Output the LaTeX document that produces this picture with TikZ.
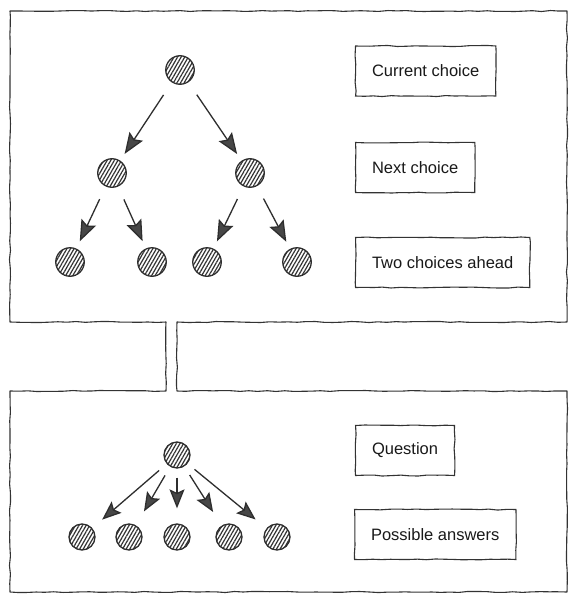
\documentclass[tikz,border=0pt]{standalone}
\usepackage{fontspec}
\setmainfont{Liberation Sans}
\usetikzlibrary{arrows.meta,patterns.meta,decorations.pathmorphing}
\begin{document}
\pgfmathsetseed{11}
\begin{tikzpicture}[x=1pt,y=-1pt,
  ink/.style={draw=black!80,line width=1.1pt},
  wobble/.style={decorate,decoration={random steps,segment length=9pt,amplitude=0.55pt}},
  ball/.style={circle,draw=black!82,line width=1.3pt,minimum size=28.5pt,inner sep=0pt,
    pattern={Lines[angle=60,distance=3.1pt,line width=1.2pt]},pattern color=black!80},
  sball/.style={ball,minimum size=26pt},
  arr/.style={draw=black!82,line width=1.3pt,
    -{Stealth[length=21pt,width=16pt,inset=3.5pt,fill=black!72]}},
  sarr/.style={arr,-{Stealth[length=19pt,width=15pt,inset=3.5pt,fill=black!72]}},
  label/.style={ink,wobble,anchor=west,minimum height=50pt,inner xsep=16.5pt,
    font=\fontsize{16.5}{19}\selectfont,text=black!90}]
\useasboundingbox (0,0) rectangle (569,594);
\fill[white] (0,0) rectangle (569,594);

% panels with connector
\draw[ink,wobble,line join=round] (10,11) -- (567,11) -- (567,322) -- (177,322) -- (177,391)
  -- (567,391) -- (567,592) -- (10,592) -- (10,391) -- (166,391) -- (166,322)
  -- (10,322) -- cycle;

% top tree
\node[ball] (r)   at (180,70) {};
\node[ball] (a)   at (112,173) {};
\node[ball] (b)   at (250,173) {};
\node[ball] (aa)  at (70,262) {};
\node[ball] (ab)  at (152,262) {};
\node[ball] (ba)  at (207,262) {};
\node[ball] (bb)  at (297,262) {};
\draw[arr,shorten <=15pt,shorten >=8pt] (r) -- (a);
\draw[arr,shorten <=15pt,shorten >=8pt] (r) -- (b);
\draw[arr,shorten <=14pt,shorten >=8pt] (a) -- (aa);
\draw[arr,shorten <=14pt,shorten >=8pt] (a) -- (ab);
\draw[arr,shorten <=14pt,shorten >=8pt] (b) -- (ba);
\draw[arr,shorten <=14pt,shorten >=8pt] (b) -- (bb);

% top labels
\node[label] (l1) at (355,71) {Current choice};
\node[label] (l2) at (355,167.5) {Next choice};
\node[label] (l3) at (355,262.5) {Two choices ahead};

% bottom tree
\node[sball] (q)  at (177,455) {};
\node[sball] (p1) at (82,537) {};
\node[sball] (p2) at (129,537) {};
\node[sball] (p3) at (177,537) {};
\node[sball] (p4) at (229,537) {};
\node[sball] (p5) at (277,537) {};
\draw[sarr,shorten <=10pt,shorten >=13pt] (q) -- (p1);
\draw[sarr,shorten <=10pt,shorten >=16pt] (q) -- (p2);
\draw[sarr,shorten <=9pt,shorten >=15pt] (q) -- (p3);
\draw[sarr,shorten <=10pt,shorten >=16pt] (q) -- (p4);
\draw[sarr,shorten <=9pt,shorten >=14pt] (q) -- (p5);

% bottom labels
\node[label] (l4) at (355,450.5) {Question};
\node[label] (l5) at (354,534.5) {Possible answers};
\end{tikzpicture}
\end{document}
